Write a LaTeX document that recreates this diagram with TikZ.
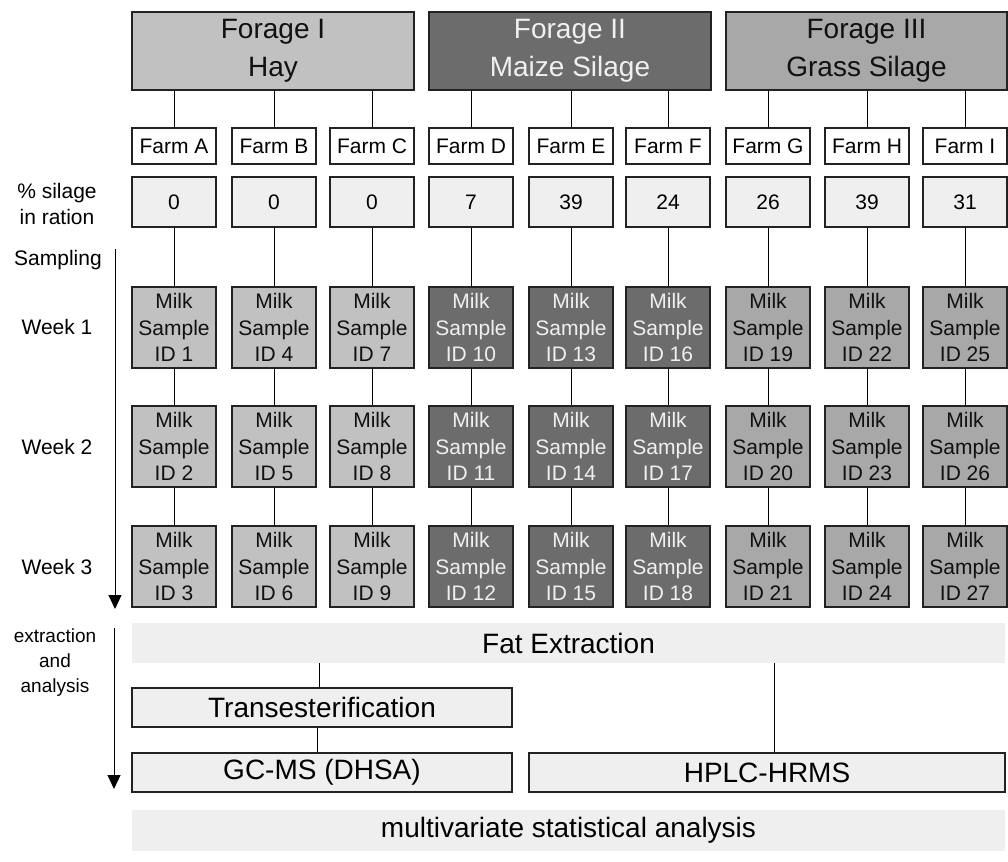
\documentclass[tikz,border=0pt]{standalone}
\usepackage{fontspec}
\setmainfont{Liberation Sans}
\usetikzlibrary{arrows.meta}
\definecolor{gA}{HTML}{C1C1C1}
\definecolor{gB}{HTML}{6C6C6C}
\definecolor{gC}{HTML}{A8A8A8}
\definecolor{tA}{HTML}{111111}
\definecolor{tB}{HTML}{F0F0F0}
\definecolor{tC}{HTML}{111111}
\definecolor{pctgray}{HTML}{EFEFEF}
\definecolor{bordercol}{HTML}{222222}
\tikzset{
  box/.style={draw=bordercol, line width=1.3pt, inner sep=0pt, align=center},
  foragebox/.style={box, minimum width=282pt, minimum height=78pt, font=\fontsize{28}{38}\selectfont},
  farmbox/.style={box, fill=white, minimum width=84pt, minimum height=36pt, font=\fontsize{21}{25}\selectfont},
  pctbox/.style={box, fill=pctgray, minimum width=84pt, minimum height=50pt, font=\fontsize{21}{25}\selectfont},
  milkbox/.style={box, minimum width=84pt, minimum height=81pt, font=\fontsize{21}{26.7}\selectfont},
  lbl/.style={align=center, inner sep=0pt, font=\fontsize{21}{26}\selectfont},
  smalllbl/.style={align=center, inner sep=0pt, font=\fontsize{19}{25}\selectfont},
  stagebox/.style={box, fill=pctgray, minimum height=39pt, font=\fontsize{28}{32}\selectfont},
  bandbox/.style={fill=pctgray, inner sep=0pt, font=\fontsize{28}{32}\selectfont},
  conn/.style={line width=1pt, draw=black},
  timearrow/.style={line width=1pt, -{Triangle[length=14pt,width=13pt]}}
}
\begin{document}
\begin{tikzpicture}[x=1pt, y=-1pt]
\useasboundingbox (0,0) rectangle (1008,861);

% forage boxes
\node[foragebox, fill=gA, text=tA] (forage1) at (273,51) {Forage I\\Hay};
\node[foragebox, fill=gB, text=tB] (forage2) at (570,51) {Forage II\\Maize Silage};
\node[foragebox, fill=gC, text=tC, minimum width=281pt] (forage3) at (866.5,51) {Forage III\\Grass Silage};

% columns
\foreach \i/\x/\farm/\pct/\g in {1/174/A/0/1, 2/274/B/0/1, 3/372/C/0/1,
                                 4/471/D/7/2, 5/571/E/39/2, 6/668/F/24/2,
                                 7/768/G/26/3, 8/867/H/39/3, 9/965/I/31/3}{
  \ifcase\g\or\def\fillc{gA}\def\textc{tA}\or\def\fillc{gB}\def\textc{tB}\or\def\fillc{gC}\def\textc{tC}\fi
  \node[farmbox] (farm\i) at (\x,146) {Farm \farm};
  \node[pctbox] (pct\i) at (\x,202) {\pct};
  \foreach \w/\y in {1/327.5, 2/446.5, 3/566.5}{
    \pgfmathtruncatemacro{\id}{3*(\i-1)+\w}
    \node[milkbox, fill=\fillc, text=\textc] (m\i-\w) at (\x,\y) {Milk\\Sample\\ID \id};
  }
  \draw[conn] (forage\g.south -| farm\i.north) -- (farm\i.north);
  \draw[conn] (pct\i.south) -- (m\i-1.north);
  \draw[conn] (m\i-1.south) -- (m\i-2.north);
  \draw[conn] (m\i-2.south) -- (m\i-3.north);
}

% left labels
\node[lbl] (lpct) at (57,204) {\% silage\\in ration};
\node[lbl] (lsamp) at (58,260) {Sampling};
\node[lbl] (lw1) at (57,327) {Week 1};
\node[lbl] (lw2) at (57,447) {Week 2};
\node[lbl] (lw3) at (57,567) {Week 3};
\node[smalllbl] (lext) at (55,663) {extraction\\and\\analysis};

% time arrows
\coordinate (a1s) at (115,249);
\coordinate (a1e) at (115,609);
\coordinate (a2s) at (114,628);
\coordinate (a2e) at (114,789);
\draw[timearrow] (a1s) -- (a1e);
\draw[timearrow] (a2s) -- (a2e);

% extraction and analysis
\node[bandbox, minimum width=873pt, minimum height=40pt] (fat) at (568.5,643) {Fat Extraction};
\node[stagebox, minimum width=380pt] (trans) at (322,707.5) {Transesterification};
\node[stagebox, minimum width=380pt] (gcms) at (322,772.5) {GC-MS (DHSA)};
\node[stagebox, minimum width=476pt] (hplc) at (767,772.5) {HPLC-HRMS};
\node[bandbox, minimum width=873pt, minimum height=41pt] (multi) at (568.5,830.5) {multivariate statistical analysis};

\draw[conn] ([xshift=-3pt]trans.north |- fat.south) -- ([xshift=-3pt]trans.north);
\draw[conn] ([xshift=-5pt]trans.south) -- ([xshift=-5pt]gcms.north);
\draw[conn] ([xshift=7pt]hplc.north |- fat.south) -- ([xshift=7pt]hplc.north);
\end{tikzpicture}
\end{document}
